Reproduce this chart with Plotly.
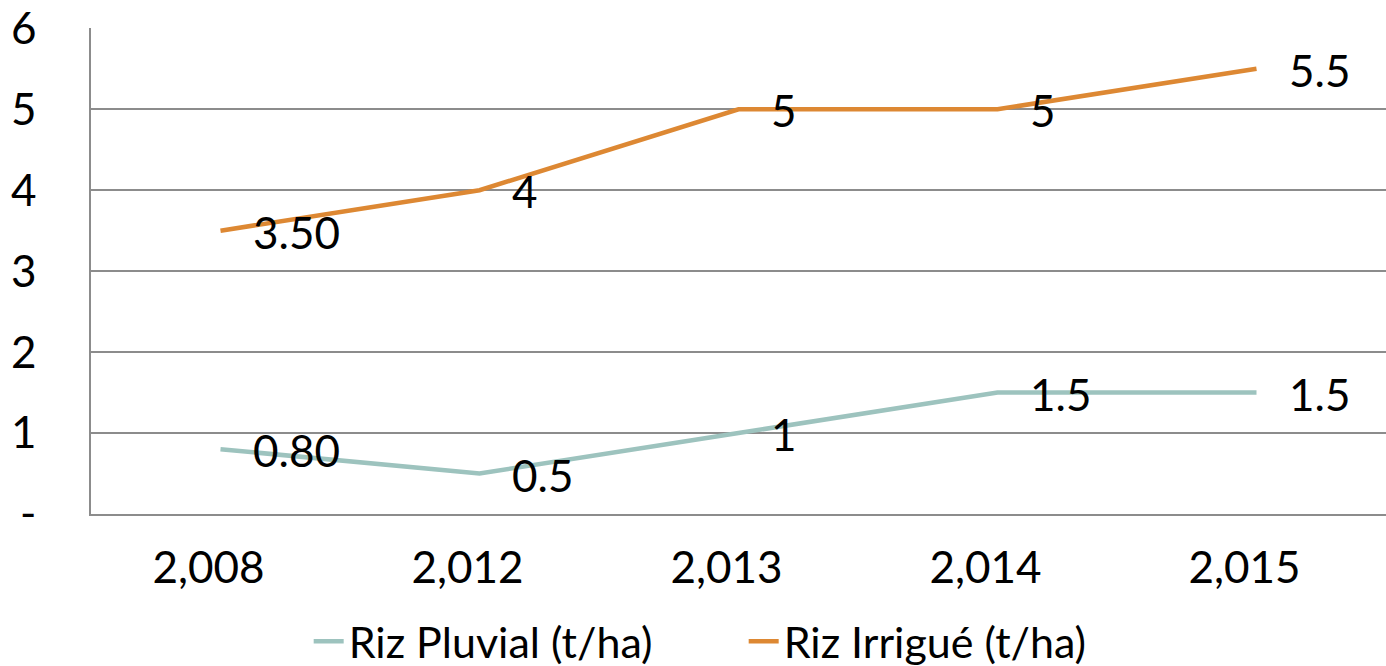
import plotly.graph_objects as go

categories = ["2,008", "2,012", "2,013", "2,014", "2,015"]
pluvial = [0.8, 0.5, 1.0, 1.5, 1.5]
irrigue = [3.5, 4.0, 5.0, 5.0, 5.5]
pluvial_labels = ["0.80", "0.5", "1", "1.5", "1.5"]
irrigue_labels = ["3.50", "4", "5", "5", "5.5"]
y_ticks = [0, 1, 2, 3, 4, 5, 6]
y_tick_labels = ["-", "1", "2", "3", "4", "5", "6"]

FONT = "Lato"
TEAL = "#9DC3BE"
ORANGE = "#DD8833"
GRID = "#8c8c8c"

fig = go.Figure()
fig.add_trace(go.Scatter(x=categories, y=pluvial, mode="lines", name="Riz Pluvial (t/ha)",
                         line=dict(color=TEAL, width=4.5)))
fig.add_trace(go.Scatter(x=categories, y=irrigue, mode="lines", name="Riz Irrigué (t/ha)",
                         line=dict(color=ORANGE, width=4.5)))

for ys, labels in ((pluvial, pluvial_labels), (irrigue, irrigue_labels)):
    for c, v, t in zip(categories, ys, labels):
        fig.add_annotation(x=c, y=v, text=t, showarrow=False, xanchor="left", yanchor="middle",
                           xshift=30, yshift=-1, font=dict(family=FONT, size=44, color="black"))

fig.update_layout(
    width=1386, height=666,
    margin=dict(l=91, r=0, t=28, b=152, autoexpand=False),
    paper_bgcolor="white", plot_bgcolor="white",
    font=dict(family=FONT, size=44, color="black"),
    showlegend=True,
    legend=dict(orientation="h", x=0.504, xanchor="center", y=-0.262, yanchor="middle",
                font=dict(family=FONT, size=43), tracegroupgap=0,
                entrywidth=390, entrywidthmode="pixels"),
    xaxis=dict(type="category", showgrid=False, showline=True, linecolor=GRID, linewidth=1.5,
               ticks="", ticklabelstandoff=14, ticklabelshift=-12, tickfont=dict(size=44),
               range=[-0.5, 4.5], automargin=False),
    yaxis=dict(range=[0, 6.004], tickvals=y_ticks, ticktext=y_tick_labels, showgrid=True,
               gridcolor=GRID, gridwidth=1.5, showline=True, linecolor=GRID, linewidth=1.5,
               zeroline=False, ticks="", ticklabelstandoff=44, tickfont=dict(size=44),
               automargin=False),
)

fig.write_html("out.html", config={"displayModeBar": False},
               post_script="document.body.style.margin='0px';document.body.style.overflow='hidden';")
